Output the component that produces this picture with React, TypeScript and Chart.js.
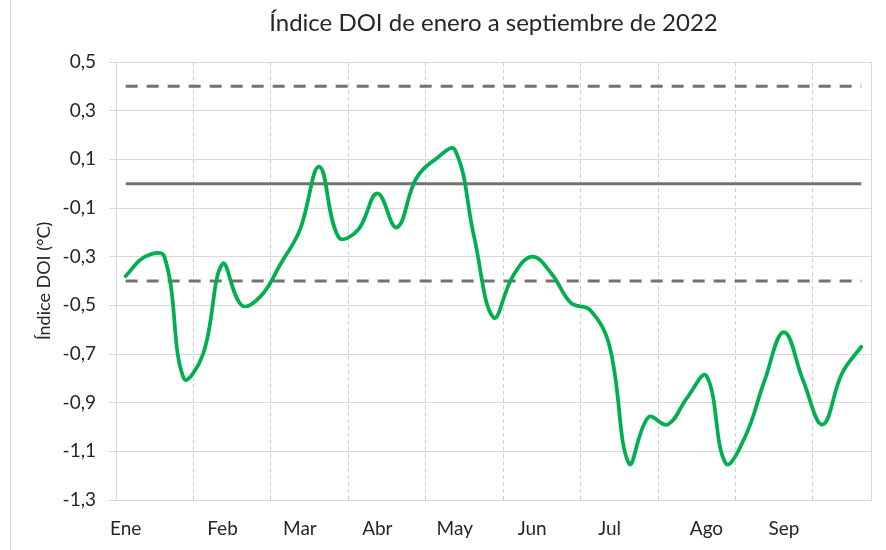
import React, { useEffect, useRef } from 'react';
import { Chart, registerables } from 'chart.js';

Chart.register(...registerables);

const titleText = 'Índice DOI de enero a septiembre de 2022';
const yAxisTitle = 'Índice DOI (°C)';

// Weekly categories (39 weeks); month names appear at the first week of each month
const weekCount = 39;
const monthNames = ['Ene', 'Feb', 'Mar', 'Abr', 'May', 'Jun', 'Jul', 'Ago', 'Sep'];
const monthFirstWeek = [0, 5, 9, 13, 17, 21, 25, 30, 34];

// DOI index values (°C), one per week
const doiValues = [
  -0.38, -0.30, -0.30, -0.80, -0.70, -0.33, -0.50, -0.46, -0.33, -0.19,
  0.07, -0.22, -0.19, -0.04, -0.18, 0.02, 0.10, 0.14, -0.22, -0.55,
  -0.38, -0.30, -0.37, -0.49, -0.52, -0.67, -1.15, -0.96, -0.99, -0.88,
  -0.79, -1.15, -1.04, -0.81, -0.61, -0.81, -0.99, -0.78, -0.67,
];

// Reference lines
const thresholdUpper = 0.4;
const thresholdZero = 0;
const thresholdLower = -0.4;

// Y axis ticks
const yTicks = [0.5, 0.3, 0.1, -0.1, -0.3, -0.5, -0.7, -0.9, -1.1, -1.3];
const yMin = -1.3;
const yMax = 0.5;

const FONT = 'Lato, "Noto Sans", sans-serif';
const TEXT = '#262626';
const GRID = '#d9d9d9';
const PAD_LEFT = 29;

export default function App() {
  const ref = useRef<HTMLCanvasElement>(null);

  useEffect(() => {
    const canvas = ref.current;
    if (!canvas) return;
    const firstWeek = 0;
    const lastWeek = weekCount - 1;
    const hLine = (y: number) => [
      { x: firstWeek, y },
      { x: lastWeek, y },
    ];

    const chart = new Chart(canvas, {
      type: 'line',
      data: {
        datasets: [
          {
            label: 'Índice DOI',
            data: doiValues.map((y, i) => ({ x: i, y })),
            borderColor: '#00B050',
            borderWidth: 3.75,
            pointRadius: 0,
            tension: 0.4,
            fill: false,
            borderCapStyle: 'round',
            borderJoinStyle: 'round',
          },
          {
            label: 'cero',
            data: hLine(thresholdZero),
            borderColor: '#767171',
            borderWidth: 3,
            pointRadius: 0,
          },
          {
            label: 'superior',
            data: hLine(thresholdUpper),
            borderColor: '#767171',
            borderWidth: 3,
            borderDash: [12, 9],
            pointRadius: 0,
          },
          {
            label: 'inferior',
            data: hLine(thresholdLower),
            borderColor: '#767171',
            borderWidth: 3,
            borderDash: [12, 9],
            pointRadius: 0,
          },
        ],
      },
      options: {
        responsive: false,
        animation: false,
        devicePixelRatio: 1,
        layout: { padding: { left: PAD_LEFT, right: 15, top: 0, bottom: 0 } },
        plugins: {
          legend: { display: false },
          tooltip: { enabled: false },
          title: {
            display: true,
            text: titleText,
            fullSize: false,
            color: TEXT,
            font: { family: FONT, size: 24, weight: 'normal' },
            padding: { top: 9, bottom: 24.2 },
          },
        },
        scales: {
          x: {
            type: 'linear',
            position: 'bottom',
            min: -0.5,
            max: weekCount - 0.5,
            afterBuildTicks: (s: any) => {
              s.ticks = monthFirstWeek.map((v) => ({ value: v }));
            },
            afterFit: (s: any) => {
              s.height = 50;
            },
            ticks: {
              autoSkip: false,
              maxRotation: 0,
              padding: 17,
              color: TEXT,
              font: { family: FONT, size: 19 },
              callback: (_v: any, i: number) => monthNames[i],
            },
            grid: { display: false, drawTicks: false },
            border: { display: true, color: GRID, width: 1 },
          },
          xGrid: {
            type: 'linear',
            position: 'bottom',
            min: -0.5,
            max: weekCount - 0.5,
            afterBuildTicks: (s: any) => {
              const t: { value: number }[] = [];
              for (let k = 0; 4 * k - 0.5 < weekCount - 0.5; k++) t.push({ value: 4 * k - 0.5 });
              t.push({ value: weekCount - 0.5 });
              s.ticks = t;
            },
            afterFit: (s: any) => {
              s.height = 0;
            },
            ticks: { display: false },
            grid: {
              drawTicks: false,
              lineWidth: 1,
              color: (ctx: any) => {
                const n = ctx.scale.ticks.length;
                if (ctx.index === 0) return 'rgba(0,0,0,0)';
                if (ctx.index === n - 1) return GRID;
                return '#cfcfcf';
              },
            },
            border: {
              display: false,
              dash: (ctx: any) => {
                const n = ctx.scale.ticks.length;
                return ctx.index === n - 1 ? [] : [4, 3];
              },
            },
          },
          y: {
            type: 'linear',
            min: yMin,
            max: yMax,
            afterBuildTicks: (s: any) => {
              s.ticks = yTicks.map((v) => ({ value: v }));
            },
            afterFit: (s: any) => {
              s.width = 116 - PAD_LEFT;
            },
            ticks: {
              padding: 13,
              color: TEXT,
              font: { family: FONT, size: 19 },
              callback: (v: any) => Number(v).toFixed(1).replace('.', ','),
            },
            grid: { color: GRID, lineWidth: 1, drawTicks: true, tickLength: 7 },
            border: { display: true, color: GRID, width: 1 },
            title: {
              display: true,
              text: yAxisTitle,
              color: TEXT,
              font: { family: FONT, size: 18 },
              padding: { top: 4, bottom: 0 },
            },
          },
        },
      },
    } as any);

    return () => chart.destroy();
  }, []);

  return (
    <div style={{ position: 'absolute', left: 0, top: 0, width: 886, height: 550, background: '#fff' }}>
      <div
        style={{
          position: 'absolute',
          left: 10,
          top: 0,
          width: 0,
          height: 550,
          borderLeft: '1px solid #d9d9d9',
        }}
      />
      <canvas ref={ref} width={886} height={550} style={{ display: 'block', width: 886, height: 550 }} />
    </div>
  );
}
